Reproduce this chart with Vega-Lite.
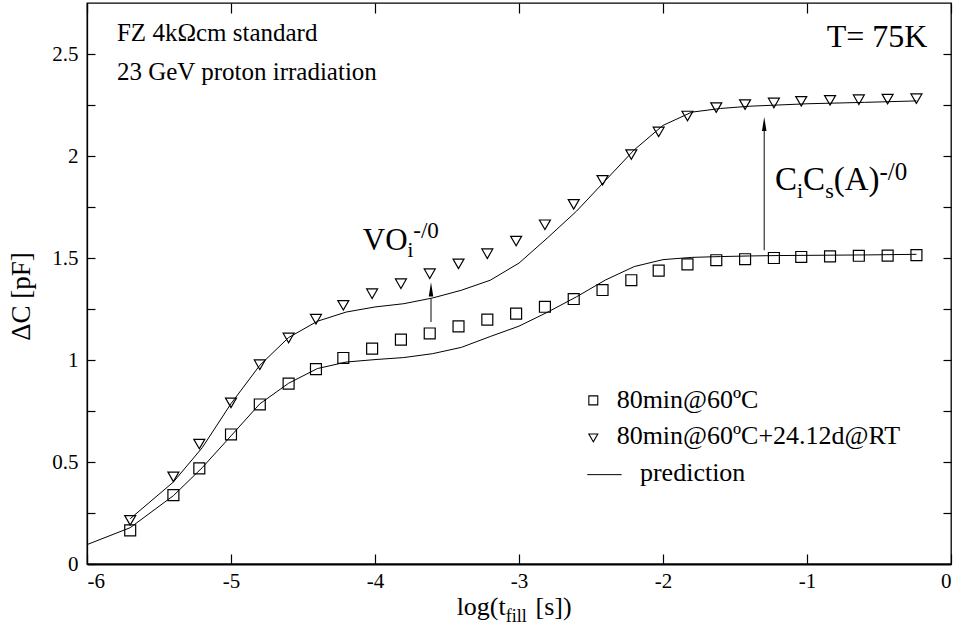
{
  "$schema": "https://vega.github.io/schema/vega-lite/v6.json",
  "width": 864,
  "height": 561,
  "autosize": {"type": "none"},
  "padding": {"left": 87, "top": 3, "right": 10, "bottom": 66},
  "background": "white",
  "config": {
    "font": "Liberation Serif",
    "view": {"stroke": "black", "strokeWidth": 1.3},
    "axis": {
      "labelFont": "Liberation Serif",
      "titleFont": "Liberation Serif",
      "labelColor": "black",
      "titleColor": "black",
      "tickColor": "black",
      "domainColor": "black",
      "grid": false,
      "labelFontSize": 21,
      "titleFontSize": 27,
      "titleFontWeight": "normal",
      "tickWidth": 1.2
    }
  },
  "datasets": {
    "pred": [
      {"curve": "low", "x": -6.0, "y": 0.095},
      {"curve": "low", "x": -5.7, "y": 0.178},
      {"curve": "low", "x": -5.4, "y": 0.335},
      {"curve": "low", "x": -5.2, "y": 0.472},
      {"curve": "low", "x": -5.0, "y": 0.628},
      {"curve": "low", "x": -4.8, "y": 0.785},
      {"curve": "low", "x": -4.6, "y": 0.886},
      {"curve": "low", "x": -4.4, "y": 0.958},
      {"curve": "low", "x": -4.2, "y": 0.99},
      {"curve": "low", "x": -4.0, "y": 1.002},
      {"curve": "low", "x": -3.8, "y": 1.012},
      {"curve": "low", "x": -3.6, "y": 1.031},
      {"curve": "low", "x": -3.4, "y": 1.062},
      {"curve": "low", "x": -3.2, "y": 1.115},
      {"curve": "low", "x": -3.0, "y": 1.166},
      {"curve": "low", "x": -2.8, "y": 1.235},
      {"curve": "low", "x": -2.6, "y": 1.31},
      {"curve": "low", "x": -2.4, "y": 1.392},
      {"curve": "low", "x": -2.2, "y": 1.458},
      {"curve": "low", "x": -2.0, "y": 1.492},
      {"curve": "low", "x": -1.8, "y": 1.503},
      {"curve": "low", "x": -1.6, "y": 1.507},
      {"curve": "low", "x": -1.4, "y": 1.51},
      {"curve": "low", "x": -1.2, "y": 1.512},
      {"curve": "low", "x": -1.0, "y": 1.513},
      {"curve": "low", "x": -0.6, "y": 1.515},
      {"curve": "low", "x": -0.24, "y": 1.518},
      {"curve": "high", "x": -5.7, "y": 0.222},
      {"curve": "high", "x": -5.4, "y": 0.402},
      {"curve": "high", "x": -5.2, "y": 0.57},
      {"curve": "high", "x": -5.0, "y": 0.786},
      {"curve": "high", "x": -4.8, "y": 0.974},
      {"curve": "high", "x": -4.6, "y": 1.11},
      {"curve": "high", "x": -4.4, "y": 1.19},
      {"curve": "high", "x": -4.2, "y": 1.235},
      {"curve": "high", "x": -4.0, "y": 1.26},
      {"curve": "high", "x": -3.8, "y": 1.276},
      {"curve": "high", "x": -3.6, "y": 1.304},
      {"curve": "high", "x": -3.4, "y": 1.342},
      {"curve": "high", "x": -3.2, "y": 1.391},
      {"curve": "high", "x": -3.0, "y": 1.475},
      {"curve": "high", "x": -2.8, "y": 1.6},
      {"curve": "high", "x": -2.6, "y": 1.73},
      {"curve": "high", "x": -2.4, "y": 1.88},
      {"curve": "high", "x": -2.2, "y": 2.03},
      {"curve": "high", "x": -2.0, "y": 2.15},
      {"curve": "high", "x": -1.8, "y": 2.215},
      {"curve": "high", "x": -1.6, "y": 2.233},
      {"curve": "high", "x": -1.4, "y": 2.244},
      {"curve": "high", "x": -1.2, "y": 2.25},
      {"curve": "high", "x": -1.0, "y": 2.256},
      {"curve": "high", "x": -0.6, "y": 2.263},
      {"curve": "high", "x": -0.24, "y": 2.27}
    ],
    "pts": [
      {"series": "80min@60ºC", "x": -5.70, "y": 0.165},
      {"series": "80min@60ºC", "x": -5.40, "y": 0.338},
      {"series": "80min@60ºC", "x": -5.22, "y": 0.469},
      {"series": "80min@60ºC", "x": -5.00, "y": 0.635},
      {"series": "80min@60ºC", "x": -4.80, "y": 0.782},
      {"series": "80min@60ºC", "x": -4.60, "y": 0.884},
      {"series": "80min@60ºC", "x": -4.41, "y": 0.955},
      {"series": "80min@60ºC", "x": -4.22, "y": 1.010},
      {"series": "80min@60ºC", "x": -4.02, "y": 1.056},
      {"series": "80min@60ºC", "x": -3.82, "y": 1.100},
      {"series": "80min@60ºC", "x": -3.62, "y": 1.130},
      {"series": "80min@60ºC", "x": -3.42, "y": 1.165},
      {"series": "80min@60ºC", "x": -3.22, "y": 1.198},
      {"series": "80min@60ºC", "x": -3.02, "y": 1.227},
      {"series": "80min@60ºC", "x": -2.82, "y": 1.261},
      {"series": "80min@60ºC", "x": -2.62, "y": 1.299},
      {"series": "80min@60ºC", "x": -2.42, "y": 1.343},
      {"series": "80min@60ºC", "x": -2.22, "y": 1.391},
      {"series": "80min@60ºC", "x": -2.03, "y": 1.438},
      {"series": "80min@60ºC", "x": -1.83, "y": 1.469},
      {"series": "80min@60ºC", "x": -1.63, "y": 1.489},
      {"series": "80min@60ºC", "x": -1.43, "y": 1.494},
      {"series": "80min@60ºC", "x": -1.23, "y": 1.500},
      {"series": "80min@60ºC", "x": -1.04, "y": 1.505},
      {"series": "80min@60ºC", "x": -0.84, "y": 1.508},
      {"series": "80min@60ºC", "x": -0.64, "y": 1.511},
      {"series": "80min@60ºC", "x": -0.44, "y": 1.512},
      {"series": "80min@60ºC", "x": -0.24, "y": 1.514},
      {"series": "80min@60ºC+24.12d@RT", "x": -5.70, "y": 0.214},
      {"series": "80min@60ºC+24.12d@RT", "x": -5.40, "y": 0.427},
      {"series": "80min@60ºC+24.12d@RT", "x": -5.22, "y": 0.588},
      {"series": "80min@60ºC+24.12d@RT", "x": -5.00, "y": 0.790},
      {"series": "80min@60ºC+24.12d@RT", "x": -4.80, "y": 0.977},
      {"series": "80min@60ºC+24.12d@RT", "x": -4.60, "y": 1.108},
      {"series": "80min@60ºC+24.12d@RT", "x": -4.41, "y": 1.200},
      {"series": "80min@60ºC+24.12d@RT", "x": -4.22, "y": 1.268},
      {"series": "80min@60ºC+24.12d@RT", "x": -4.02, "y": 1.325},
      {"series": "80min@60ºC+24.12d@RT", "x": -3.82, "y": 1.374},
      {"series": "80min@60ºC+24.12d@RT", "x": -3.62, "y": 1.423},
      {"series": "80min@60ºC+24.12d@RT", "x": -3.42, "y": 1.471},
      {"series": "80min@60ºC+24.12d@RT", "x": -3.22, "y": 1.521},
      {"series": "80min@60ºC+24.12d@RT", "x": -3.02, "y": 1.583},
      {"series": "80min@60ºC+24.12d@RT", "x": -2.82, "y": 1.663},
      {"series": "80min@60ºC+24.12d@RT", "x": -2.62, "y": 1.763},
      {"series": "80min@60ºC+24.12d@RT", "x": -2.42, "y": 1.881},
      {"series": "80min@60ºC+24.12d@RT", "x": -2.22, "y": 2.007},
      {"series": "80min@60ºC+24.12d@RT", "x": -2.03, "y": 2.118},
      {"series": "80min@60ºC+24.12d@RT", "x": -1.83, "y": 2.196},
      {"series": "80min@60ºC+24.12d@RT", "x": -1.63, "y": 2.237},
      {"series": "80min@60ºC+24.12d@RT", "x": -1.43, "y": 2.252},
      {"series": "80min@60ºC+24.12d@RT", "x": -1.23, "y": 2.260},
      {"series": "80min@60ºC+24.12d@RT", "x": -1.04, "y": 2.268},
      {"series": "80min@60ºC+24.12d@RT", "x": -0.84, "y": 2.273},
      {"series": "80min@60ºC+24.12d@RT", "x": -0.64, "y": 2.276},
      {"series": "80min@60ºC+24.12d@RT", "x": -0.44, "y": 2.279},
      {"series": "80min@60ºC+24.12d@RT", "x": -0.24, "y": 2.281}
    ],
    "legendpts": [
      {"series": "80min@60ºC", "x": -2.484, "y": 0.802},
      {"series": "80min@60ºC+24.12d@RT", "x": -2.484, "y": 0.618}
    ],
    "legendline": [
      {"x": -2.526, "x2": -2.287, "y": 0.438}
    ],
    "arrows": [
      {"name": "VO", "x": -3.611, "y": 1.186, "y2": 1.30},
      {"name": "CiCs", "x": -1.297, "y": 1.538, "y2": 2.13}
    ],
    "heads": [
      {"name": "VO", "x": -3.611, "y": 1.346},
      {"name": "CiCs", "x": -1.297, "y": 2.157}
    ],
    "texts": [
      {"role": "note", "x": -5.792, "y": 2.565, "text": "FZ 4kΩcm standard"},
      {"role": "note", "x": -5.792, "y": 2.371, "text": "23 GeV proton irradiation"},
      {"role": "temp", "x": -0.863, "y": 2.534, "text": "T= 75K"},
      {"role": "legend", "x": -2.322, "y": 0.767, "text": "80min@60ºC"},
      {"role": "legend", "x": -2.322, "y": 0.587, "text": "80min@60ºC+24.12d@RT"},
      {"role": "legend", "x": -2.16, "y": 0.405, "text": "prediction"},
      {"role": "vo", "x": -4.085, "y": 1.541, "text": "VO"},
      {"role": "vosub", "x": -3.774, "y": 1.505, "text": "i"},
      {"role": "vosup", "x": -3.734, "y": 1.597, "text": "-/0"},
      {"role": "cc", "x": -1.222, "y": 1.832, "text": "C"},
      {"role": "ccsub", "x": -1.069, "y": 1.792, "text": "i"},
      {"role": "cc", "x": -1.027, "y": 1.832, "text": "C"},
      {"role": "ccsub", "x": -0.874, "y": 1.792, "text": "s"},
      {"role": "cc", "x": -0.815, "y": 1.832, "text": "(A)"},
      {"role": "ccsup", "x": -0.497, "y": 1.881, "text": "-/0"},
      {"role": "xtitle", "x": -3.433, "y": -0.2515, "text": "log(t"},
      {"role": "xsub", "x": -3.092, "y": -0.284, "text": "fill"},
      {"role": "xtitle", "x": -2.885, "y": -0.2515, "text": "[s])"}
    ]
  },
  "resolve": {"axis": {"x": "independent", "y": "independent"}},
  "layer": [
    {
      "data": {"name": "pred"},
      "mark": {"type": "line", "color": "black", "strokeWidth": 1},
      "encoding": {
        "x": {"field": "x", "type": "quantitative", "scale": {"domain": [-6, 0], "nice": false, "zero": false},
              "axis": {"orient": "top", "values": [-6, -5, -4, -3, -2, -1, 0], "tickSize": -10, "labels": false, "domain": false, "title": null}},
        "y": {"field": "y", "type": "quantitative", "scale": {"domain": [0, 2.75], "nice": false, "zero": false},
              "axis": {"orient": "right", "values": [0.25, 0.5, 0.75, 1, 1.25, 1.5, 1.75, 2, 2.25, 2.5], "tickSize": -8, "labels": false, "domain": false, "title": null}},
        "detail": {"field": "curve", "type": "nominal"}
      }
    },
    {
      "data": {"name": "pts"},
      "mark": {"type": "point", "filled": false, "stroke": "black", "strokeWidth": 1.2, "size": 120, "opacity": 1},
      "encoding": {
        "x": {"field": "x", "type": "quantitative",
              "axis": {"orient": "bottom", "values": [-6, -5, -4, -3, -2, -1, 0], "tickSize": -10, "labelPadding": 16, "labelExpr": "'' + datum.value", "title": null, "domainWidth": 2}},
        "y": {"field": "y", "type": "quantitative",
              "axis": {"orient": "left", "values": [0, 0.25, 0.5, 0.75, 1, 1.25, 1.5, 1.75, 2, 2.25, 2.5], "tickSize": -8, "labelPadding": 17, "labelExpr": "datum.value % 0.5 === 0 ? ('' + datum.value) : ''", "title": "ΔC [pF]", "titlePadding": 16, "titleY": 293, "domainWidth": 1.3}},
        "shape": {"field": "series", "type": "nominal", "scale": {"domain": ["80min@60ºC", "80min@60ºC+24.12d@RT"], "range": ["square", "triangle-down"]}, "legend": null}
      }
    },
    {
      "data": {"name": "legendpts"},
      "mark": {"type": "point", "filled": false, "stroke": "black", "strokeWidth": 1.1, "size": 80, "opacity": 1},
      "encoding": {
        "x": {"field": "x", "type": "quantitative", "axis": null},
        "y": {"field": "y", "type": "quantitative", "axis": null},
        "shape": {"field": "series", "type": "nominal", "legend": null}
      }
    },
    {
      "data": {"name": "legendline"},
      "mark": {"type": "rule", "color": "black", "strokeWidth": 1},
      "encoding": {
        "x": {"field": "x", "type": "quantitative", "axis": null},
        "x2": {"field": "x2"},
        "y": {"field": "y", "type": "quantitative", "axis": null}
      }
    },
    {
      "data": {"name": "arrows"},
      "mark": {"type": "rule", "color": "#333", "strokeWidth": 1.2},
      "encoding": {
        "x": {"field": "x", "type": "quantitative", "axis": null},
        "y": {"field": "y", "type": "quantitative", "axis": null},
        "y2": {"field": "y2"}
      }
    },
    {
      "data": {"name": "heads"},
      "mark": {"type": "point", "shape": "M0,-1L0.32,1L-0.32,1Z", "filled": true, "color": "black", "size": 200, "opacity": 1},
      "encoding": {
        "x": {"field": "x", "type": "quantitative", "axis": null},
        "y": {"field": "y", "type": "quantitative", "axis": null}
      }
    },
    {
      "data": {"name": "texts"},
      "mark": {"type": "text", "align": "left", "baseline": "alphabetic", "color": "black", "font": "Liberation Serif"},
      "encoding": {
        "x": {"field": "x", "type": "quantitative", "axis": null},
        "y": {"field": "y", "type": "quantitative", "axis": null},
        "text": {"field": "text"},
        "size": {"field": "role", "type": "nominal",
                 "scale": {"type": "ordinal",
                           "domain": ["note", "temp", "legend", "vo", "vosub", "vosup", "cc", "ccsub", "ccsup", "xtitle", "xsub"],
                           "range": [25, 32, 26, 31, 21, 23, 33, 22, 25, 26, 18]},
                 "legend": null}
      }
    }
  ]
}
